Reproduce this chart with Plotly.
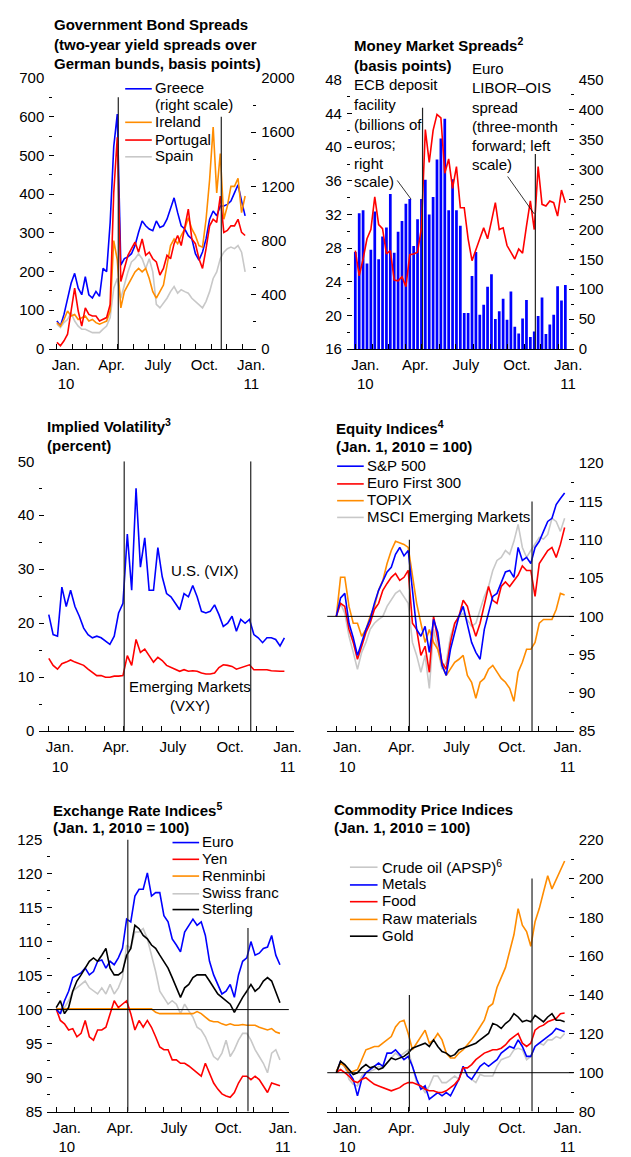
import plotly.graph_objects as go
import pandas as pd

W, H = 631, 1157
FAM = "Arial, 'Liberation Sans', sans-serif"
FS = 15

weeks = [d.strftime("%Y-%m-%d") for d in pd.date_range("2010-01-01", periods=55, freq="7D")]
month_starts = [d.strftime("%Y-%m-%d") for d in pd.date_range("2010-01-01", periods=13, freq="MS")]
label_dates = ["2010-01-19", "2010-04-19", "2010-07-19", "2010-10-19", "2011-01-19"]
label_text = ["Jan.<br>10", "Apr.", "July", "Oct.", "Jan.<br>11"]
x_range = ["2009-12-17", "2011-01-29"]
event_dates = ["2010-05-02", "2010-11-21"]

# ---- Panel 1: Government bond spreads (bp) ----
greece = [206, 170, 255, 376, 485, 558, 448, 400, 533, 400, 376, 424, 388, 594, 570, 933, 1491, 1733,
          618, 667, 679, 703, 764, 861, 945, 909, 885, 873, 945, 897, 909, 958, 1030, 1115, 1006, 909,
          885, 836, 812, 703, 655, 715, 812, 958, 1018, 982, 1055, 1055, 1067, 1091, 1152, 1212, 1091, 982]
ireland = [68, 59, 76, 98, 85, 89, 76, 81, 85, 72, 76, 68, 64, 68, 72, 98, 280, 230, 106, 148, 165, 182,
           199, 208, 199, 208, 182, 148, 131, 148, 165, 216, 267, 284, 272, 293, 310, 339, 310, 293, 267,
           263, 335, 437, 573, 403, 505, 335, 369, 420, 420, 441, 352, 395]
portugal = [17, 8, 21, 38, 98, 157, 98, 59, 106, 89, 85, 85, 72, 76, 81, 115, 403, 547, 174, 208, 242, 259,
            276, 250, 284, 242, 250, 233, 225, 191, 208, 242, 233, 272, 293, 267, 318, 361, 284, 272, 233,
            208, 259, 318, 335, 327, 395, 301, 306, 318, 318, 335, 301, 293]
spain = [64, 55, 68, 76, 93, 72, 59, 51, 51, 47, 42, 42, 42, 51, 59, 81, 157, 182, 131, 165, 199, 225, 233,
         246, 233, 208, 233, 199, 115, 106, 119, 131, 148, 161, 144, 153, 148, 144, 131, 123, 115, 106, 123,
         148, 182, 199, 233, 250, 259, 263, 259, 267, 250, 199]

# ---- Panel 2: Money market ----
ecb_deposit = [162, 227, 232, 143, 166, 230, 150, 188, 203, 259, 161, 196, 214, 243, 251, 172, 217, 251,
               283, 225, 254, 317, 352, 385, 232, 284, 232, 206, 60, 60, 122, 162, 57, 74, 104, 125, 50, 63,
               84, 49, 96, 37, 26, 51, 82, 20, 29, 55, 86, 25, 41, 57, 105, 81, 107]
libor_ois = [27.7, 24.7, 26.7, 29.1, 30.2, 34.1, 30.8, 30.3, 27.3, 27.7, 24.2, 24.1, 24.6, 23.4, 27.2, 27.3,
             27.5, 30.4, 42.1, 38.2, 42.0, 43.9, 43.5, 36.9, 38.6, 35.1, 37.7, 32.8, 32.8, 29.1, 26.5, 27.7,
             29.1, 30.4, 29.1, 31.2, 33.4, 30.2, 30.4, 28.3, 27.5, 26.7, 27.9, 27.4, 30.6, 33.6, 30.2, 37.7,
             33.2, 33.0, 33.6, 33.4, 31.8, 34.9, 33.4]

# ---- Panel 3: Implied volatility ----
vix = [21.6, 17.9, 17.6, 26.7, 23.1, 26.1, 23.1, 21.3, 19.1, 17.9, 17.3, 17.6, 17.3, 16.7, 16.1, 17.6, 21.9,
       23.7, 36.5, 26.1, 45.0, 30.4, 35.8, 26.1, 26.1, 34.0, 28.6, 25.5, 24.9, 23.7, 22.5, 25.5, 24.9, 27.0,
       24.9, 22.2, 21.9, 22.2, 23.4, 21.6, 19.4, 20.0, 21.3, 18.5, 20.7, 20.0, 20.7, 17.9, 17.3, 16.4, 17.3,
       17.3, 17.0, 15.8, 17.3]
vxy = [13.5, 12.2, 11.5, 12.5, 12.8, 13.2, 12.8, 12.5, 12.2, 11.5, 10.9, 10.3, 10.3, 10.0, 10.0, 10.2, 10.2,
       10.3, 14.0, 12.2, 17.0, 14.6, 15.2, 14.0, 12.8, 13.7, 13.1, 12.2, 11.8, 11.5, 11.1, 11.4, 11.1, 11.2,
       11.1, 10.8, 10.6, 10.6, 10.8, 11.8, 12.3, 12.2, 12.0, 11.5, 11.8, 12.0, 12.3, 11.4, 11.4, 11.4, 11.4,
       11.2, 11.1, 11.1, 11.1]

# ---- Panel 4: Equity indices ----
sp500 = [100, 102.4, 103.0, 99.1, 97.2, 94.9, 96.6, 98.3, 99.6, 101.7, 103.4, 104.7, 105.8, 106.4, 108.1,
         109.0, 107.9, 108.6, 103.4, 98.3, 97.4, 98.7, 95.3, 99.6, 97.9, 93.6, 92.3, 95.7, 97.9, 100.0, 101.3,
         99.1, 96.6, 95.3, 94.4, 98.3, 100.4, 102.6, 103.0, 104.3, 105.8, 106.0, 105.1, 109.0, 107.3, 107.7,
         106.9, 109.0, 109.8, 111.1, 112.4, 112.8, 114.6, 115.4, 116.1]
euro_first = [100, 101.7, 101.3, 98.3, 96.6, 94.4, 96.1, 97.9, 99.1, 100.9, 101.7, 103.4, 104.3, 105.1, 105.6,
              104.7, 105.1, 106.0, 99.1, 98.3, 94.9, 96.1, 92.7, 100.0, 97.0, 94.0, 93.1, 96.6, 99.1, 100.0,
              102.1, 101.3, 99.1, 97.4, 99.1, 101.7, 103.9, 102.1, 101.7, 103.9, 104.5, 103.9, 104.7, 105.4,
              106.6, 106.0, 106.0, 102.6, 106.9, 107.7, 108.6, 109.0, 107.7, 109.4, 111.6]
topix = [100.0, 105.1, 105.1, 101.3, 99.1, 99.1, 97.4, 98.3, 100.0, 101.3, 103.4, 104.7, 106.9, 108.6, 109.8,
         109.6, 109.4, 109.0, 105.1, 101.7, 99.1, 96.6, 98.3, 96.6, 95.7, 93.6, 92.3, 93.1, 94.0, 94.4, 94.9,
         92.3, 91.4, 89.3, 91.4, 91.9, 93.1, 93.6, 92.7, 91.9, 91.4, 90.6, 88.9, 92.7, 94.0, 95.7, 95.7, 96.6,
         99.1, 99.6, 99.6, 99.6, 100.9, 103.0, 102.8]
msci_em = [100, 101.7, 100.4, 97.4, 95.3, 93.1, 95.3, 96.6, 98.3, 99.1, 99.6, 100.0, 101.3, 102.1, 103.0,
           103.4, 102.6, 101.7, 96.6, 94.9, 92.7, 94.9, 90.6, 98.3, 95.7, 93.1, 94.0, 97.4, 99.1, 100.0, 100.4,
           99.6, 98.7, 99.1, 100.9, 102.6, 103.9, 106.0, 107.3, 107.7, 108.6, 108.1, 109.8, 112.0, 109.0, 107.7,
           108.6, 109.4, 110.3, 110.1, 110.7, 112.8, 112.4, 111.1, 112.8]

# ---- Panel 5: Exchange rate indices ----
euro = [100.1, 99.4, 101.3, 102.7, 104.7, 105.1, 105.4, 106.1, 105.1, 105.6, 107.1, 107.3, 106.1, 107.1, 106.6,
        107.6, 109.0, 113.3, 112.9, 116.7, 117.7, 117.7, 120.1, 116.7, 117.2, 117.2, 113.8, 112.9, 110.4, 109.5,
        108.5, 111.4, 112.4, 113.3, 112.4, 112.9, 110.9, 107.1, 105.1, 103.7, 102.3, 102.7, 103.7, 101.8, 105.1,
        107.1, 107.6, 110.0, 108.0, 108.3, 109.0, 109.2, 110.9, 108.0, 106.6]
yen = [100.1, 98.4, 97.9, 97.0, 97.2, 96.0, 96.5, 98.4, 96.0, 95.5, 97.0, 97.0, 97.4, 99.4, 101.3, 100.3,
       100.8, 101.3, 99.4, 97.0, 98.4, 97.4, 98.4, 97.4, 96.0, 94.5, 94.1, 94.1, 92.6, 92.6, 92.1, 92.1, 91.7,
       91.2, 90.7, 90.2, 92.1, 90.7, 89.2, 88.3, 87.6, 87.3, 87.1, 87.8, 89.2, 90.2, 90.2, 89.7, 90.2, 89.7,
       88.8, 87.8, 89.2, 89.0, 88.8]
renminbi = [100.1, 100.1, 100.1, 100.1, 100.1, 100.1, 100.1, 100.1, 100.1, 100.1, 100.1, 100.1, 100.1, 100.1,
            100.1, 100.1, 100.1, 100.1, 100.1, 100.1, 100.1, 100.1, 100.1, 100.1, 99.6, 99.4, 99.4, 99.4, 99.4,
            99.4, 99.4, 99.4, 99.4, 99.4, 99.7, 99.4, 98.9, 98.4, 98.2, 98.2, 97.9, 97.7, 97.9, 97.7, 97.7, 97.8,
            97.7, 97.7, 97.7, 97.4, 97.2, 97.0, 97.2, 96.7, 96.5]
swiss_franc = [100.1, 99.4, 100.3, 101.3, 102.7, 103.2, 103.7, 104.2, 103.2, 102.7, 102.3, 103.2, 102.3, 103.7,
               102.3, 103.2, 104.7, 109.5, 109.0, 111.4, 111.4, 111.9, 110.4, 108.0, 105.6, 102.7, 101.8, 100.8,
               101.3, 100.8, 99.4, 100.8, 99.8, 98.9, 97.4, 97.0, 96.0, 94.5, 93.1, 92.6, 93.6, 95.5, 93.1, 94.1,
               95.5, 96.5, 96.5, 95.5, 94.1, 93.1, 92.1, 90.7, 93.6, 94.1, 92.6]
sterling = [100.3, 101.3, 99.4, 100.3, 102.7, 104.2, 105.1, 106.1, 107.1, 107.6, 107.1, 108.0, 109.0, 106.1,
            105.1, 105.1, 105.6, 108.0, 109.0, 112.4, 111.9, 110.9, 110.4, 109.5, 109.0, 108.0, 107.1, 106.1,
            104.7, 103.2, 101.8, 103.2, 103.7, 104.7, 105.1, 105.1, 105.1, 104.2, 103.2, 102.3, 101.8, 101.3,
            100.8, 99.6, 100.8, 101.8, 102.7, 103.7, 102.7, 103.2, 104.2, 104.7, 104.2, 102.7, 101.0]

# ---- Panel 6: Commodity price indices ----
crude_oil = [100, 105.0, 103.3, 96.6, 94.0, 93.2, 98.3, 100, 100.8, 101.6, 103.3, 102.5, 105.0, 107.6, 110.1,
             108.4, 110.1, 111.8, 103.3, 94.9, 93.2, 89.8, 93.2, 98.3, 98.3, 94.9, 94.9, 96.6, 98.3, 96.6, 103.3,
             98.3, 96.6, 94.9, 99.1, 98.3, 98.3, 98.3, 103.3, 106.7, 107.6, 108.4, 111.8, 112.6, 111.8, 106.7,
             108.4, 113.5, 115.2, 114.3, 116.9, 116.9, 118.6, 117.7, 120.2]
metals = [100, 105.9, 103.3, 100, 96.6, 88.1, 96.6, 100, 101.6, 103.3, 105.0, 103.3, 110.1, 110.1, 111.8, 109.3,
          106.7, 108.4, 103.3, 96.6, 91.5, 93.2, 86.4, 88.1, 89.8, 88.1, 89.8, 88.1, 92.3, 96.6, 103.3, 98.3,
          96.6, 100, 103.3, 105.0, 103.3, 105.0, 106.7, 110.1, 111.8, 113.5, 112.6, 116.9, 113.5, 108.4, 108.4,
          113.5, 115.2, 116.9, 118.6, 120.2, 122.8, 121.9, 121.1]
food = [100, 101.6, 100, 98.3, 95.7, 94.9, 96.6, 97.4, 95.7, 94.0, 93.2, 92.3, 91.5, 90.7, 91.5, 92.3, 94.0,
        94.9, 94.9, 94.0, 93.2, 91.5, 90.7, 90.7, 89.8, 89.8, 90.7, 92.3, 94.0, 96.6, 102.5, 102.5, 104.2, 106.7,
        108.4, 110.1, 110.9, 111.8, 111.8, 112.6, 114.3, 116.9, 118.6, 120.2, 115.2, 113.5, 115.2, 121.9, 123.6,
        124.5, 126.2, 127.0, 127.9, 130.4, 130.7]
raw_materials = [100.8, 105.0, 103.3, 100, 100.8, 101.6, 106.7, 111.8, 112.6, 113.5, 113.5, 115.2, 116.9, 118.6,
                 123.6, 126.2, 127.0, 120.2, 111.8, 115.2, 118.6, 121.9, 115.2, 116.9, 120.2, 116.9, 110.1,
                 107.6, 107.6, 110.1, 111.8, 114.3, 116.9, 120.2, 123.6, 127.0, 133.8, 135.5, 143.9, 149.0,
                 154.1, 162.5, 171.0, 184.5, 176.0, 172.7, 165.1, 177.7, 184.5, 193.0, 201.4, 194.6, 199.7,
                 204.8, 209.0]
gold = [100, 105.9, 104.2, 101.6, 99.1, 100, 102.5, 104.2, 102.5, 103.3, 101.6, 102.5, 105.0, 107.6, 106.7,
        107.6, 108.4, 110.1, 112.6, 113.5, 114.3, 115.2, 113.5, 116.9, 113.5, 110.9, 110.1, 108.4, 109.3, 111.8,
        112.6, 113.5, 114.3, 115.2, 116.9, 118.6, 120.2, 125.3, 124.5, 122.8, 125.3, 127.0, 130.4, 128.7, 126.2,
        127.0, 126.2, 129.5, 127.9, 126.2, 128.7, 130.4, 127.0, 127.0, 126.2]

BLUE, RED, ORANGE, GRAY, BLACK = "#0000FF", "#FF0000", "#FF8C00", "#C8C8C8", "#000000"
LW = 1.6


def px(x):
    return x / W


def py(y):
    return 1 - y / H


fig = go.Figure()


def line(xs, ys, color, xa, ya):
    fig.add_trace(go.Scatter(x=xs[:len(ys)], y=ys, mode="lines", line=dict(color=color, width=LW),
                             xaxis=xa, yaxis=ya, showlegend=False, hoverinfo="skip"))


# Panel 1 (Greece on right scale base axis y, others on left overlay y2)
line(weeks, greece, BLUE, "x", "y")
line(weeks, spain, GRAY, "x", "y2")
line(weeks, ireland, ORANGE, "x", "y2")
line(weeks, portugal, RED, "x", "y2")
# Panel 2
fig.add_trace(go.Bar(x=weeks[:len(ecb_deposit)], y=ecb_deposit, marker=dict(color=BLUE, line=dict(width=0)),
                     xaxis="x2", yaxis="y3", showlegend=False, hoverinfo="skip"))
line(weeks, libor_ois, RED, "x2", "y4")
# Panel 3
line(weeks, vix, BLUE, "x3", "y5")
line(weeks, vxy, RED, "x3", "y5")
# Panel 4
line(weeks, msci_em, GRAY, "x4", "y7")
line(weeks, topix, ORANGE, "x4", "y7")
line(weeks, euro_first, RED, "x4", "y7")
line(weeks, sp500, BLUE, "x4", "y7")
# Panel 5
line(weeks, swiss_franc, GRAY, "x5", "y9")
line(weeks, renminbi, ORANGE, "x5", "y9")
line(weeks, yen, RED, "x5", "y9")
line(weeks, euro, BLUE, "x5", "y9")
line(weeks, sterling, BLACK, "x5", "y9")
# Panel 6
line(weeks, crude_oil, GRAY, "x6", "y11")
line(weeks, metals, BLUE, "x6", "y11")
line(weeks, food, RED, "x6", "y11")
line(weeks, raw_materials, ORANGE, "x6", "y11")
line(weeks, gold, BLACK, "x6", "y11")

TF = dict(family=FAM, size=FS, color="black")


def xaxis(x0, x1, anchor):
    return dict(domain=[px(x0), px(x1)], anchor=anchor, type="date", range=x_range,
                tickmode="array", tickvals=label_dates, ticktext=label_text, ticks="", ticklen=0,
                showline=True, linecolor="black", linewidth=1, showgrid=False, zeroline=False,
                tickfont=TF, ticklabelstandoff=2,
                minor=dict(tickmode="array", tickvals=month_starts, ticks="inside", ticklen=5,
                           tickcolor="black", tickwidth=1, showgrid=False))


def yaxis(ytop, ybot, rng, dtick, side, labels, anchor, overlaying=None):
    d = dict(range=rng, tickmode="linear", tick0=rng[0], dtick=dtick, ticks="inside", ticklen=5,
             tickcolor="black", tickwidth=1, side=side, showgrid=False, zeroline=False, showline=False,
             showticklabels=labels, tickfont=TF, anchor=anchor, ticklabelstandoff=4,
             minor=dict(tickmode="linear", tick0=rng[0] + dtick / 2, dtick=dtick, ticks="inside",
                        ticklen=3, tickcolor="black", tickwidth=1, showgrid=False))
    if overlaying:
        d["overlaying"] = overlaying
    else:
        d["domain"] = [py(ybot), py(ytop)]
    return d


P = {
    1: (50, 260, 70, 345),
    2: (352, 582, 72, 345),
    3: (40, 298, 459, 733),
    4: (332, 582, 461, 733),
    5: (48, 293, 843, 1119),
    6: (332, 582, 843, 1119),
}

lay = {}
lay["xaxis"] = xaxis(P[1][0], P[1][1], "y")
lay["yaxis"] = yaxis(P[1][2], P[1][3], [0, 2000], 400, "right", True, "x")
lay["yaxis2"] = yaxis(P[1][2], P[1][3], [0, 700], 100, "left", True, "x", "y")

lay["xaxis2"] = xaxis(P[2][0], P[2][1], "y3")
lay["yaxis3"] = yaxis(P[2][2], P[2][3], [0, 450], 50, "right", True, "x2")
lay["yaxis4"] = yaxis(P[2][2], P[2][3], [16, 48], 4, "left", True, "x2", "y3")

lay["xaxis3"] = xaxis(P[3][0], P[3][1], "y5")
lay["yaxis5"] = yaxis(P[3][2], P[3][3], [0, 50], 10, "left", True, "x3")
lay["yaxis6"] = yaxis(P[3][2], P[3][3], [0, 50], 10, "right", False, "x3", "y5")

lay["xaxis4"] = xaxis(P[4][0], P[4][1], "y7")
lay["yaxis7"] = yaxis(P[4][2], P[4][3], [85, 120], 5, "right", True, "x4")
lay["yaxis8"] = yaxis(P[4][2], P[4][3], [85, 120], 5, "left", False, "x4", "y7")

lay["xaxis5"] = xaxis(P[5][0], P[5][1], "y9")
lay["yaxis9"] = yaxis(P[5][2], P[5][3], [85, 125], 5, "left", True, "x5")
lay["yaxis10"] = yaxis(P[5][2], P[5][3], [85, 125], 5, "right", False, "x5", "y9")

lay["xaxis6"] = xaxis(P[6][0], P[6][1], "y11")
lay["yaxis11"] = yaxis(P[6][2], P[6][3], [80, 220], 20, "right", True, "x6")
lay["yaxis12"] = yaxis(P[6][2], P[6][3], [80, 220], 20, "left", False, "x6", "y11")

# event lines (top values per panel, in each panel's plotted axis units)
event_tops = {("x", "y2"): [650, 600], ("x2", "y4"): [44.7, 39.2], ("x3", "y5"): [50, 50],
              ("x4", "y7"): [110, 115], ("x5", "y9"): [125, 112], ("x6", "y11"): [140, 200]}
event_bottoms = {"y2": 0, "y4": 16, "y5": 0, "y7": 85, "y9": 85, "y11": 80}
shapes = []
for (xa, ya), tops in event_tops.items():
    for d, t in zip(event_dates, tops):
        shapes.append(dict(type="line", xref=xa, yref=ya, x0=d, x1=d, y0=event_bottoms[ya], y1=t,
                           line=dict(color="#222222", width=1.2), layer="above"))
# reference lines at 100
for xa, ya in [("x4", "y7"), ("x5", "y9"), ("x6", "y11")]:
    shapes.append(dict(type="line", xref=xa + " domain", yref=ya, x0=0, x1=1, y0=100, y1=100,
                       line=dict(color="black", width=1), layer="above"))

annots = []


def text(x, y, s, bold=False, anchor="left"):
    annots.append(dict(xref="paper", yref="paper", x=px(x), y=py(y), text=("<b>%s</b>" % s) if bold else s,
                       showarrow=False, xanchor=anchor, yanchor="middle", font=TF, align=anchor))


def seg(x0, y0, x1, y1, color, width=LW):
    shapes.append(dict(type="line", xref="paper", yref="paper", x0=px(x0), x1=px(x1), y0=py(y0), y1=py(y1),
                       line=dict(color=color, width=width)))


# titles
text(53, 16, "Government Bond Spreads", True)
text(53, 36, "(two-year yield spreads over", True)
text(53, 55, "German bunds, basis points)", True)
text(357, 36, "Money Market Spreads<sup>2</sup>", True)
text(357, 57, "(basis points)", True)
text(46, 423, "Implied Volatility<sup>3</sup>", True)
text(46, 443, "(percent)", True)
text(339, 425, "Equity Indices<sup>4</sup>", True)
text(339, 444, "(Jan. 1, 2010 = 100)", True)
text(52, 812, "Exchange Rate Indices<sup>5</sup>", True)
text(52, 831, "(Jan. 1, 2010 = 100)", True)
text(337, 812, "Commodity Price Indices", True)
text(337, 831, "(Jan. 1, 2010 = 100)", True)

# panel 1 legend
for lbl, yy, col in [("Greece", 80, BLUE), ("Ireland", 114, ORANGE), ("Portugal", 132, RED), ("Spain", 149, GRAY)]:
    seg(127, yy + 1, 154, yy + 1, col)
    text(155, yy, lbl)
text(155, 97, "(right scale)")

# panel 2 labels
for i, s in enumerate(["ECB deposit", "facility", "(billions of", "euros;", "right", "scale)"]):
    text(357, [77, 97, 117, 137, 157, 175][i], s)
for i, s in enumerate(["Euro", "LIBOR\u2013OIS", "spread", "(three-month", "forward; left", "scale)"]):
    text(477, [60, 80, 100, 119, 139, 158][i], s)
seg(403, 174, 417, 193, BLACK, 0.8)
seg(515, 170, 542, 208, BLACK, 0.8)

# panel 3 labels
text(208, 570, "U.S. (VIX)", anchor="center")
text(193, 688, "Emerging Markets", anchor="center")
text(193, 707, "(VXY)", anchor="center")

# panel 4 legend
for lbl, yy, col in [("S&amp;P 500", 463, BLUE), ("Euro First 300", 481, RED), ("TOPIX", 498, ORANGE),
                     ("MSCI Emerging Markets", 515, GRAY)]:
    seg(342, yy + 1, 369, yy + 1, col)
    text(370, yy, lbl)

# panel 5 legend
for lbl, yy, col in [("Euro", 845, BLUE), ("Yen", 862, RED), ("Renminbi", 879, ORANGE),
                     ("Swiss franc", 897, GRAY), ("Sterling", 913, BLACK)]:
    seg(175, yy + 1, 202, yy + 1, col)
    text(203, yy, lbl)

# panel 6 legend
for lbl, yy, col in [("Crude oil (APSP)<sup>6</sup>", 870, GRAY), ("Metals", 888, BLUE), ("Food", 905, RED),
                     ("Raw materials", 923, ORANGE), ("Gold", 940, BLACK)]:
    seg(355, yy + 1, 383, yy + 1, col)
    text(385, yy, lbl)

fig.update_layout(width=W, height=H, margin=dict(l=0, r=0, t=0, b=0), paper_bgcolor="white",
                  plot_bgcolor="rgba(0,0,0,0)", font=TF, bargap=0.3, showlegend=False,
                  shapes=shapes, annotations=annots, **lay)
fig.write_html("out.html", config={"displayModeBar": False, "staticPlot": True},
               post_script="document.body.style.margin='0';document.body.style.overflow='hidden';"
                           "document.documentElement.style.overflow='hidden';")
